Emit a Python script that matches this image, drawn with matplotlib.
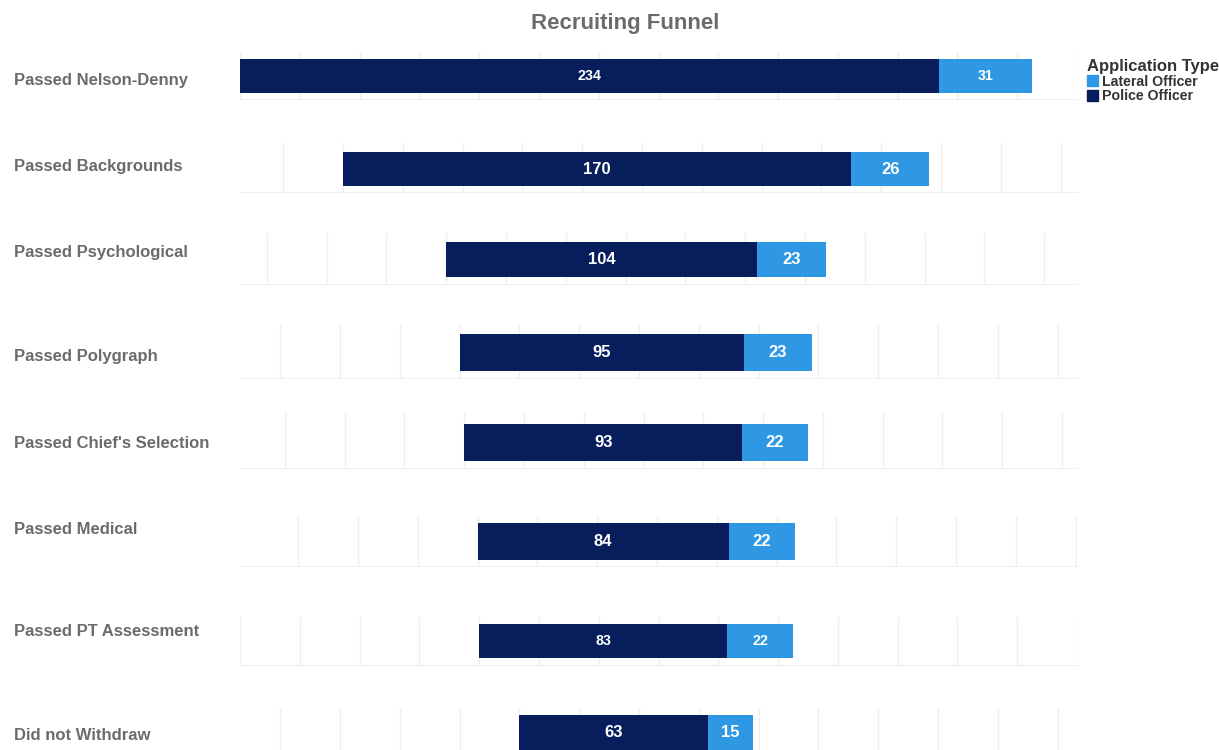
import matplotlib
matplotlib.use("Agg")
import matplotlib.pyplot as plt
from matplotlib.patches import Patch
from matplotlib.ticker import MultipleLocator

plt.rcParams["font.family"] = ["Liberation Sans", "DejaVu Sans"]

stages = ["Passed Nelson-Denny", "Passed Backgrounds", "Passed Psychological",
          "Passed Polygraph", "Passed Chief's Selection", "Passed Medical",
          "Passed PT Assessment", "Did not Withdraw"]
police = [234, 170, 104, 95, 93, 84, 83, 63]
lateral = [31, 26, 23, 23, 22, 22, 22, 15]

NAVY = "#071d5c"
BLUE = "#2f98e4"
GRID = "#efefef"

W, H = 1219, 750
# pixel layout of each row panel: (panel top, panel bottom, bar top, bar bottom, label y)
rows_px = [(52, 99, 59, 93, 81), (143, 192, 152, 186, 167), (233, 284, 242, 277, 253),
           (325, 378, 334, 371, 356), (413, 468, 424, 461, 443), (517, 566, 523, 560, 529),
           (617, 665, 624, 658, 632), (708, 758, 715, 750, 735)]
small_labels = {0, 6}  # rows whose value labels are drawn in a smaller size

fig = plt.figure(figsize=(W / 100, H / 100), dpi=100)
fig.text(625 / W, 1 - 23 / H, "Recruiting Funnel", ha="center", va="center",
         fontsize=16, fontweight="bold", color="#6b6b6b")

widest = max(p + l for p, l in zip(police, lateral))
span = 280

for i, (stage, p, l) in enumerate(zip(stages, police, lateral)):
    top, bot, btop, bbot, ly = rows_px[i]
    ax = fig.add_axes([240 / W, 1 - bot / H, 837 / W, (bot - top) / H])
    off = (widest - (p + l)) / 2
    ax.set_xlim(-off, -off + span)
    ax.set_ylim(bot, top)
    yc = (btop + bbot) / 2
    hgt = bbot - btop
    ax.barh(yc, p, left=0, height=hgt, color=NAVY, zorder=3)
    ax.barh(yc, l, left=p, height=hgt, color=BLUE, zorder=3)
    fs = 10.3 if i in small_labels else 12
    ax.text(p / 2, yc, str(p), ha="center", va="center", color="white",
            fontsize=fs, fontweight="bold", zorder=4)
    ax.text(p + l / 2, yc, str(l), ha="center", va="center", color="white",
            fontsize=fs, fontweight="bold", zorder=4)
    ax.xaxis.set_major_locator(MultipleLocator(20))
    ax.grid(axis="x", color=GRID, lw=1, zorder=0)
    ax.tick_params(length=0, labelbottom=False, labelleft=False)
    ax.set_yticks([])
    for side in ("top", "right", "left"):
        ax.spines[side].set_visible(False)
    ax.spines["bottom"].set_color(GRID)
    ax.patch.set_alpha(0)
    fig.text(14 / W, 1 - ly / H, stage, ha="left", va="center",
             fontsize=12, fontweight="bold", color="#6b6b6b")

handles = [Patch(color=BLUE, label="Lateral Officer"),
           Patch(color=NAVY, label="Police Officer")]
leg = fig.legend(handles=handles, loc="upper left", bbox_to_anchor=(1077 / W, 1 - 49 / H),
                 frameon=False, title="Application Type", alignment="left",
                 handlelength=0.75, handleheight=0.75, handletextpad=0.35,
                 labelspacing=0.05, borderpad=0.2,
                 prop={"weight": "bold", "size": 10.2},
                 title_fontproperties={"weight": "bold", "size": 12})
leg.get_title().set_color("#333333")
for t in leg.get_texts():
    t.set_color("#333333")

fig.savefig("out.png", dpi=100)
